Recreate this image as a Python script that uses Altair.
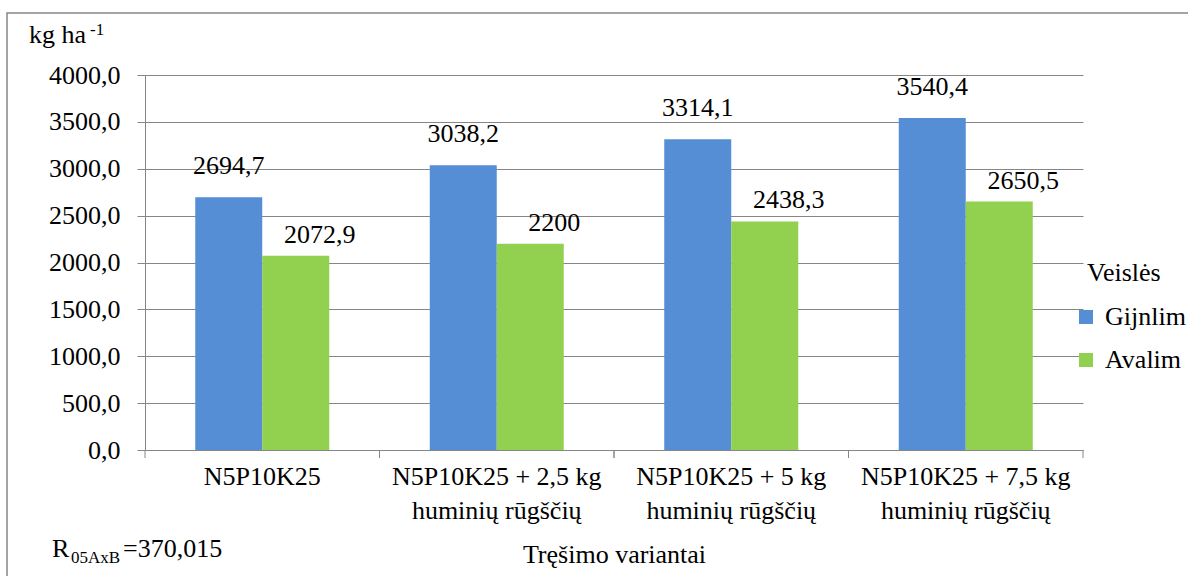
import altair as alt
import pandas as pd

categories = [
    "N5P10K25",
    "N5P10K25 + 2,5 kg\nhuminių rūgščių",
    "N5P10K25 + 5 kg\nhuminių rūgščių",
    "N5P10K25 + 7,5 kg\nhuminių rūgščių",
]
series = ["Gijnlim", "Avalim"]
gijnlim = [2694.7, 3038.2, 3314.1, 3540.4]
avalim = [2072.9, 2200.0, 2438.3, 2650.5]
colors = ["#558ED5", "#92D050"]
y_ticks = [0, 500, 1000, 1500, 2000, 2500, 3000, 3500, 4000]

rows = []
for c, g, a in zip(categories, gijnlim, avalim):
    rows.append({"cat": c, "series": "Gijnlim", "value": g})
    rows.append({"cat": c, "series": "Avalim", "value": a})
df = pd.DataFrame(rows)
cat_df = pd.DataFrame({"cat": categories})

FONT = "Tinos"
FS = 26
GRAY = "#868686"
W, H = 938, 375

xscale = alt.Scale(domain=categories, paddingInner=0, paddingOuter=0)
xaxis = alt.Axis(labelExpr="split(datum.label, '\\n')", labelAngle=0,
                 ticks=False, domainColor=GRAY, labelFont=FONT,
                 labelFontSize=FS, labelColor="black", labelLineHeight=34,
                 labelPadding=13, labelLimit=400, titleFont=FONT, titleFontSize=FS,
                 titleFontWeight="normal", titleColor="black",
                 titlePadding=18, title="Tręšimo variantai")
xoff = alt.XOffset("series:N", sort=series,
                   scale=alt.Scale(domain=series, paddingInner=0, paddingOuter=0.75))
yscale = alt.Scale(domain=[0, 4000])


def xenc(**kw):
    return alt.X("cat:N", sort=categories, scale=xscale, axis=xaxis, **kw)


bars = alt.Chart(df).mark_bar().encode(
    x=xenc(),
    xOffset=xoff,
    y=alt.Y("value:Q", scale=yscale, title=None,
            axis=alt.Axis(values=y_ticks, labelExpr="replace(format(datum.value, '.1f'), '.', ',')",
                          grid=True, gridColor=GRAY, domainColor=GRAY, tickColor=GRAY,
                          tickSize=8, labelFont=FONT, labelFontSize=FS, labelColor="black",
                          labelPadding=17)),
    color=alt.Color("series:N", sort=series,
                    scale=alt.Scale(domain=series, range=colors),
                    legend=alt.Legend(title=None, orient="none", legendX=928, legendY=229,
                                      symbolType="square", symbolSize=196,
                                      symbolStrokeWidth=0, labelFont=FONT,
                                      labelFontSize=FS, labelColor="black",
                                      rowPadding=17, labelOffset=6)),
)

labels_base = alt.Chart(df).transform_calculate(
    lab="replace(toString(datum.value), '.', ',')"
)
lab_g = labels_base.transform_filter(alt.datum.series == "Gijnlim").mark_text(
    font=FONT, fontSize=FS, baseline="bottom", dy=-18, color="black"
).encode(x=xenc(), xOffset=xoff, y=alt.Y("value:Q", scale=yscale), text="lab:N")
lab_a = labels_base.transform_filter(alt.datum.series == "Avalim").mark_text(
    font=FONT, fontSize=FS, baseline="bottom", dy=-8, dx=24, color="black"
).encode(x=xenc(), xOffset=xoff, y=alt.Y("value:Q", scale=yscale), text="lab:N")

tick_l = alt.Chart(cat_df).mark_rule(color=GRAY, strokeWidth=1).encode(
    x=xenc(bandPosition=0), y=alt.value(H), y2=alt.value(H + 8))
tick_r = alt.Chart(cat_df).mark_rule(color=GRAY, strokeWidth=1).encode(
    x=xenc(bandPosition=1), y=alt.value(H), y2=alt.value(H + 8))


def txt(t, x, y, size=FS, baseline="alphabetic"):
    return alt.Chart(pd.DataFrame({"t": [t]})).mark_text(
        font=FONT, fontSize=size, align="left", baseline=baseline, color="black"
    ).encode(x=alt.value(x - 145), y=alt.value(y - 75), text="t:N")


unit_main = txt("kg ha", 29, 43)
unit_sup = txt("-1", 90, 35, 17)
r_main = txt("R", 52, 557)
r_sub = txt("05AxB", 71, 563, 17)
r_val = txt("=370,015", 123, 557)
leg_title = txt("Veislės", 1087, 273, FS, "middle")

frame = alt.Chart(pd.DataFrame({"t": [0]})).mark_rect(
    fillOpacity=0, stroke=GRAY, strokeWidth=1.5).encode(
    x=alt.value(7 - 145), x2=alt.value(1200 - 145),
    y=alt.value(13 - 75), y2=alt.value(600 - 75))

chart = alt.layer(
    frame, bars, lab_g, lab_a, tick_l, tick_r, unit_main, unit_sup,
    r_main, r_sub, r_val, leg_title
).properties(
    width=W, height=H,
    background="white",
    autosize=alt.AutoSizeParams(type="none"),
    padding={"left": 145, "top": 75, "right": 1188 - 145 - W, "bottom": 576 - 75 - H},
).configure(font=FONT).configure_view(stroke=None)

chart.save("out.html", embed_options={"renderer": "svg", "actions": False})
